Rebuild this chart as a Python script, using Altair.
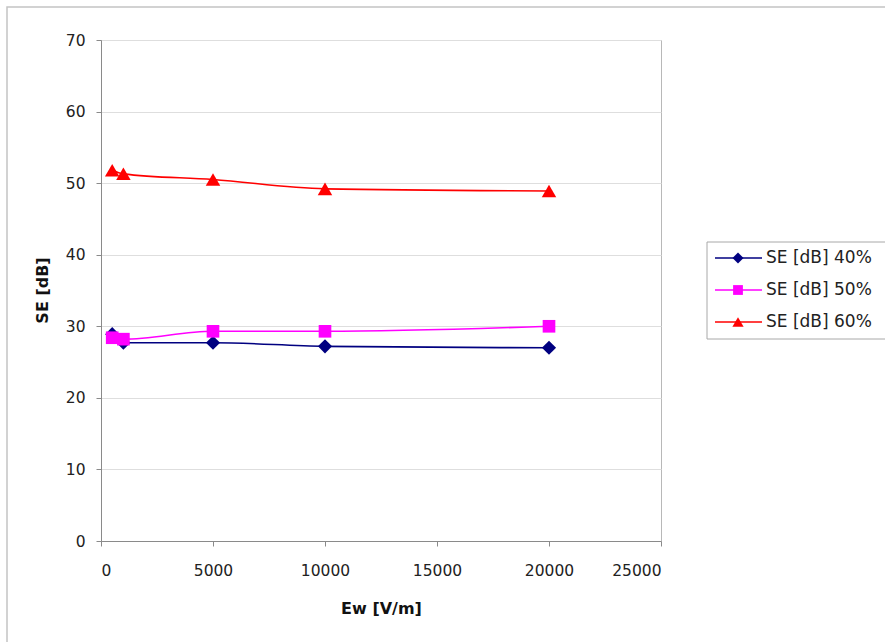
import altair as alt
import pandas as pd

# ---- data ----
ew = [500, 1000, 5000, 10000, 20000]
series_names = ["SE [dB] 40%", "SE [dB] 50%", "SE [dB] 60%"]
se_40 = [28.9, 27.7, 27.7, 27.2, 27.0]
se_50 = [28.4, 28.2, 29.3, 29.3, 30.0]
se_60 = [51.8, 51.3, 50.5, 49.2, 48.9]
x_ticks = [0, 5000, 10000, 15000, 20000, 25000]
y_ticks = [0, 10, 20, 30, 40, 50, 60, 70]

colors = ["#000080", "#FF00FF", "#FF0000"]
shapes = ["diamond", "square", "triangle-up"]
sizes = [200, 160, 210]

rows = []
for name, vals in zip(series_names, [se_40, se_50, se_60]):
    for xv, yv in zip(ew, vals):
        rows.append({"series": name, "Ew": xv, "SE": yv})
df = pd.DataFrame(rows)

FONT = "DejaVu Sans"
W, H = 560, 501

x_enc = alt.X(
    "Ew:Q",
    scale=alt.Scale(domain=[0, 25000], nice=False),
    axis=alt.Axis(
        values=x_ticks, format="d", grid=False, title="Ew [V/m]",
        tickSize=5, labelPadding=17, labelFontSize=15.5, labelFont=FONT,
        labelColor="#222222", titleFont=FONT, titleFontSize=16,
        titleFontWeight="bold", titleColor="#111111",
        titleX=280, titleY=67, titleBaseline="middle", titleAlign="center",
        domainColor="#8a8a8a", tickColor="#8a8a8a",
    ),
)
y_enc = alt.Y(
    "SE:Q",
    scale=alt.Scale(domain=[0, 70], nice=False),
    axis=alt.Axis(
        values=y_ticks, grid=True, gridColor="#dedede", title="SE [dB]",
        tickSize=5, labelPadding=11, labelFontSize=15.5, labelFont=FONT,
        labelColor="#222222", titleFont=FONT, titleFontSize=16,
        titleFontWeight="bold", titleColor="#111111",
        titleAngle=270, titleX=-59, titleY=250, titleBaseline="middle",
        titleAlign="center", domainColor="#8a8a8a", tickColor="#8a8a8a",
    ),
)
color_enc = alt.Color(
    "series:N", scale=alt.Scale(domain=series_names, range=colors), legend=None
)
shape_enc = alt.Shape(
    "series:N", scale=alt.Scale(domain=series_names, range=shapes), legend=None
)

lines = alt.Chart(df).mark_line(interpolate="monotone", strokeWidth=1.6).encode(
    x=x_enc, y=y_enc, color=color_enc, detail="series:N"
)

points = [
    alt.Chart(df[df.series == name]).mark_point(filled=True, opacity=1, size=sz).encode(
        x="Ew:Q", y="SE:Q", color=color_enc, shape=shape_enc
    )
    for name, sz in zip(series_names, sizes)
]

# outer chart border (decorative)
frame = alt.Chart(pd.DataFrame({"k": [0]})).mark_rect(
    fill="transparent", stroke="#c4c4c4", strokeWidth=1.5
).encode(x=alt.value(-94), x2=alt.value(820), y=alt.value(-33), y2=alt.value(640))

# manual legend
leg_box = alt.Chart(pd.DataFrame({"k": [0]})).mark_rect(
    fill="white", stroke="#a8a8a8", strokeWidth=1
).encode(x=alt.value(606), x2=alt.value(800), y=alt.value(202), y2=alt.value(299))

legend_layers = [leg_box]
legend_y = [218, 250, 282]
for name, col, shp, sz, ly in zip(series_names, colors, shapes, sizes, legend_y):
    d = pd.DataFrame({"label": [name]})
    legend_layers.append(
        alt.Chart(d).mark_rule(color=col, strokeWidth=1.6).encode(
            x=alt.value(614), x2=alt.value(661), y=alt.value(ly)
        )
    )
    legend_layers.append(
        alt.Chart(d).mark_point(filled=True, opacity=1, color=col, shape=shp, size=sz * 0.6).encode(
            x=alt.value(637), y=alt.value(ly)
        )
    )
    legend_layers.append(
        alt.Chart(d).mark_text(
            align="left", baseline="middle", font=FONT, fontSize=17, color="#222222"
        ).encode(x=alt.value(665), y=alt.value(ly), text="label:N")
    )

chart = alt.layer(frame, lines, *points, *legend_layers).properties(
    width=W, height=H,
    autosize=alt.AutoSizeParams(type="none"),
    padding={"left": 101, "top": 40, "right": 224, "bottom": 101},
    background="white",
).configure_view(stroke="#b8b8b8", strokeWidth=1)

chart.save("out.html", embed_options={"renderer": "svg", "actions": False})
